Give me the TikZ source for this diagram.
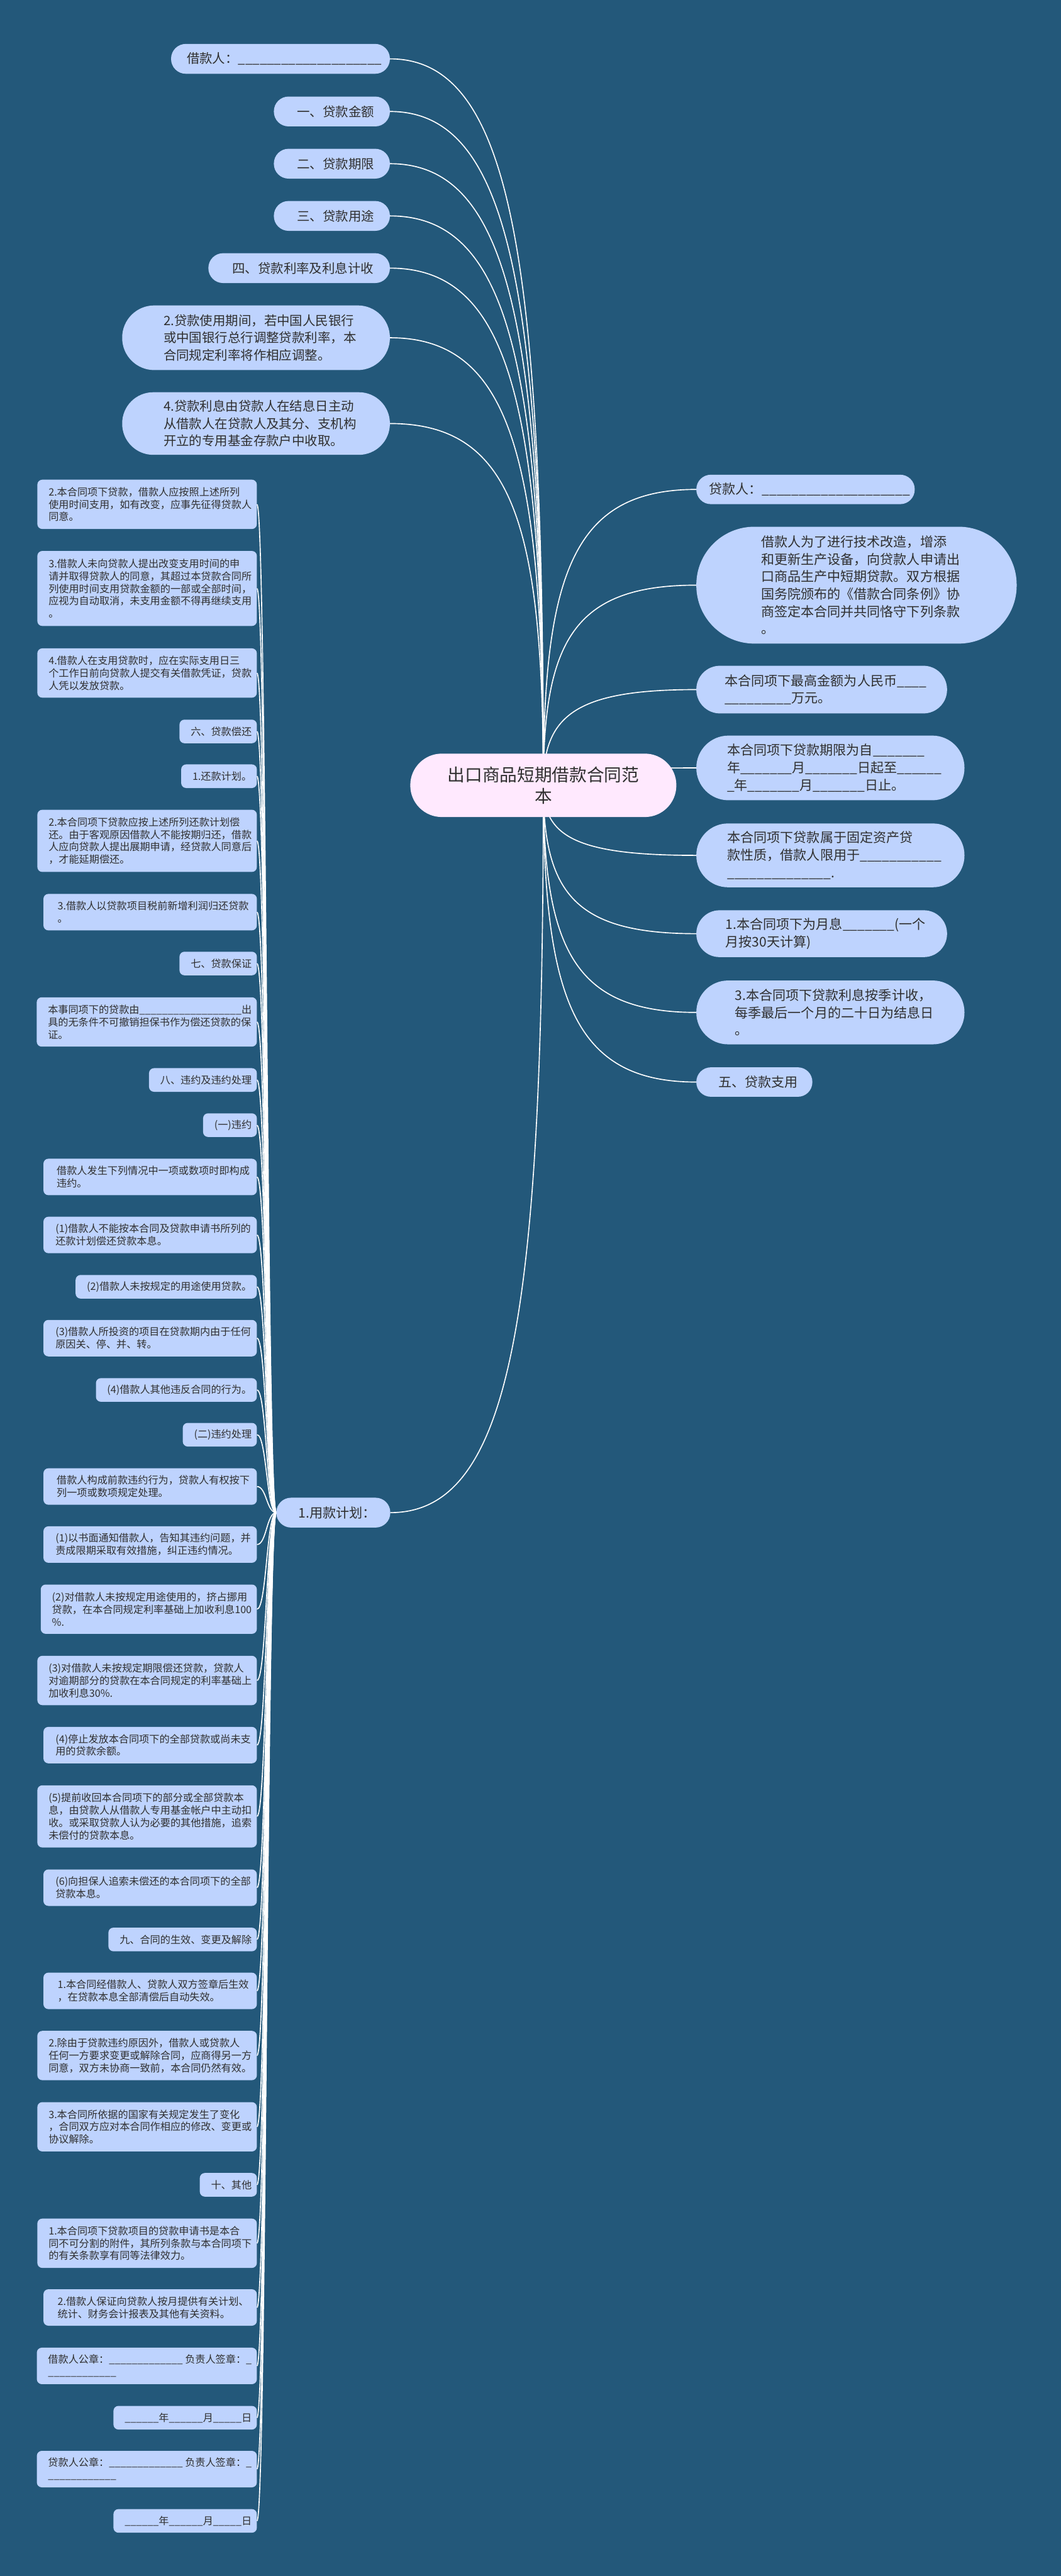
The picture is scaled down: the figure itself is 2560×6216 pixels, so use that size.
\documentclass[tikz,border=0pt]{standalone}
\usepackage{fontspec}
\setmainfont{Noto Sans CJK SC}
\usetikzlibrary{calc,backgrounds}
\definecolor{deepblue}{HTML}{23587A}
\definecolor{paleblue}{HTML}{BED3FE}
\definecolor{palepink}{HTML}{FFE9FE}
\definecolor{darkgrey}{HTML}{2F2F2F}
\ExplSyntaxOn
\NewDocumentCommand\blanks{m}{\prg_replicate:nn{#1}{\_}}
\ExplSyntaxOff
\begin{document}
\begin{tikzpicture}[x=1pt,y=-1pt,
    every node/.style={text=darkgrey, inner sep=0pt},
    tl/.style={fill=paleblue, align=left, anchor=east, font=\fontsize{31}{42}\selectfont,
      execute at begin node=\hspace*{0.6em}},
    rt/.style={fill=paleblue, align=left, anchor=west, font=\fontsize{32}{42}\selectfont,
      execute at begin node=\hspace*{0.6em}},
    lf/.style={fill=paleblue, align=left, anchor=east, inner xsep=12.5pt, rounded corners=12pt,
      font=\fontsize{24.5}{30}\selectfont, execute at begin node=\hspace*{0.6em}},
    wide/.style={minimum width=515pt},
    rows/.style={minimum height=(26+31*#1)*1pt},
    link/.style={draw=white, line width=2.5pt}]
    \useasboundingbox (0,0) rectangle (2560,6216);

    \node[fill=palepink, minimum width=642pt, minimum height=153pt, rounded corners=76pt,
      align=center, font=\fontsize{42}{52}\selectfont] (root) at (1311,1895) {出口商品短期借款合同范\\本};

    \node[tl, minimum width=528pt, minimum height=72pt, rounded corners=35.5pt] (tl1) at (941,142) {借款人：\blanks{20}};
    \node[tl, minimum width=280pt, minimum height=72pt, rounded corners=35.5pt] (tl2) at (941,269) {一、贷款金额};
    \node[tl, minimum width=280pt, minimum height=72pt, rounded corners=35.5pt] (tl3) at (941,395) {二、贷款期限};
    \node[tl, minimum width=280pt, minimum height=72pt, rounded corners=35.5pt] (tl4) at (941,521) {三、贷款用途};
    \node[tl, minimum width=438pt, minimum height=72pt, rounded corners=35.5pt] (tl5) at (941,647) {四、贷款利率及利息计收};
    \node[tl, minimum width=646pt, minimum height=156pt, rounded corners=77.5pt] (tl6) at (941,815)
      {2.贷款使用期间，若中国人民银行\\或中国银行总行调整贷款利率，本\\合同规定利率将作相应调整。};
    \node[tl, minimum width=646pt, minimum height=151pt, rounded corners=75pt] (tl7) at (941,1022)
      {4.贷款利息由贷款人在结息日主动\\从借款人在贷款人及其分、支机构\\开立的专用基金存款户中收取。};

    \node[rt, minimum width=527pt, minimum height=71pt, rounded corners=35pt] (rt1) at (1680,1181) {贷款人：\blanks{20}};
    \node[rt, minimum width=773pt, minimum height=282pt, rounded corners=140pt] (rt2) at (1680,1412)
      {借款人为了进行技术改造，增添\\和更新生产设备，向贷款人申请出\\口商品生产中短期贷款。双方根据\\国务院颁布的《借款合同条例》协\\商签定本合同并共同恪守下列条款\\。};
    \node[rt, minimum width=605pt, minimum height=115pt, rounded corners=57pt] (rt3) at (1680,1664)
      {本合同项下最高金额为人民币\blanks{4}\\\blanks{9}万元。};
    \node[rt, minimum width=647pt, minimum height=156pt, rounded corners=77.5pt] (rt4) at (1680,1853)
      {本合同项下贷款期限为自\blanks{7}\\年\blanks{7}月\blanks{7}日起至\blanks{6}\\\_年\blanks{7}月\blanks{7}日止。};
    \node[rt, minimum width=647pt, minimum height=154pt, rounded corners=76.5pt] (rt5) at (1680,2064)
      {本合同项下贷款属于固定资产贷\\款性质，借款人限用于\blanks{11}\\\blanks{14}.};
    \node[rt, minimum width=605pt, minimum height=113pt, rounded corners=56pt] (rt6) at (1680,2253)
      {1.本合同项下为月息\blanks{7}(一个\\月按30天计算)};
    \node[rt, minimum width=647pt, minimum height=154pt, rounded corners=76.5pt] (rt7) at (1680,2443)
      {3.本合同项下贷款利息按季计收，\\每季最后一个月的二十日为结息日\\。};
    \node[rt, minimum width=280pt, minimum height=71pt, rounded corners=35pt] (rt8) at (1680,2611) {五、贷款支用};

    \node[tl, minimum width=275pt, minimum height=72pt, rounded corners=35.5pt,
      font=\fontsize{32}{42}\selectfont] (use) at (942,3650) {1.用款计划：};

    \node[lf, wide, rows=3] (lf1) at (620,1217) {2.本合同项下贷款，借款人应按照上述所列\\使用时间支用，如有改变，应事先征得贷款人\\同意。};
    \node[lf, wide, rows=5] (lf2) at (620,1420) {3.借款人未向贷款人提出改变支用时间的申\\请并取得贷款人的同意，其超过本贷款合同所\\列使用时间支用贷款金额的一部或全部时间，\\应视为自动取消，未支用金额不得再继续支用\\。};
    \node[lf, wide, rows=3] (lf3) at (620,1624) {4.借款人在支用贷款时，应在实际支用日三\\个工作日前向贷款人提交有关借款凭证，贷款\\人凭以发放贷款。};
    \node[lf, rows=1] (lf4) at (620,1765) {六、贷款偿还};
    \node[lf, rows=1] (lf5) at (620,1873) {1.还款计划。};
    \node[lf, wide, rows=4] (lf6) at (620,2029) {2.本合同项下贷款应按上述所列还款计划偿\\还。由于客观原因借款人不能按期归还，借款\\人应向贷款人提出展期申请，经贷款人同意后\\，才能延期偿还。};
    \node[lf, wide, rows=2] (lf7) at (620,2201) {3.借款人以贷款项目税前新增利润归还贷款\\。};
    \node[lf, rows=1] (lf8) at (620,2325) {七、贷款保证};
    \node[lf, wide, rows=3] (lf9) at (620,2466) {本事同项下的贷款由\blanks{18}出\\具的无条件不可撤销担保书作为偿还贷款的保\\证。};
    \node[lf, rows=1] (lf10) at (620,2606) {八、违约及违约处理};
    \node[lf, rows=1] (lf11) at (620,2715) {(一)违约};
    \node[lf, wide, rows=2] (lf12) at (620,2840) {借款人发生下列情况中一项或数项时即构成\\违约。};
    \node[lf, wide, rows=2] (lf13) at (620,2980) {(1)借款人不能按本合同及贷款申请书所列的\\还款计划偿还贷款本息。};
    \node[lf, rows=1] (lf14) at (620,3105) {(2)借款人未按规定的用途使用贷款。};
    \node[lf, wide, rows=2] (lf15) at (620,3229) {(3)借款人所投资的项目在贷款期内由于任何\\原因关、停、并、转。};
    \node[lf, rows=1] (lf16) at (620,3354) {(4)借款人其他违反合同的行为。};
    \node[lf, rows=1] (lf17) at (620,3462) {(二)违约处理};
    \node[lf, wide, rows=2] (lf18) at (620,3587) {借款人构成前款违约行为，贷款人有权按下\\列一项或数项规定处理。};
    \node[lf, wide, rows=2] (lf19) at (620,3727) {(1)以书面通知借款人，告知其违约问题，并\\责成限期采取有效措施，纠正违约情况。};
    \node[lf, wide, rows=3] (lf20) at (620,3883) {(2)对借款人未按规定用途使用的，挤占挪用\\贷款，在本合同规定利率基础上加收利息100\\\%.};
    \node[lf, wide, rows=3] (lf21) at (620,4055) {(3)对借款人未按规定期限偿还贷款，贷款人\\对逾期部分的贷款在本合同规定的利率基础上\\加收利息30\%.};
    \node[lf, wide, rows=2] (lf22) at (620,4211) {(4)停止发放本合同项下的全部贷款或尚未支\\用的贷款余额。};
    \node[lf, wide, rows=4] (lf23) at (620,4383) {(5)提前收回本合同项下的部分或全部贷款本\\息，由贷款人从借款人专用基金帐户中主动扣\\收。或采取贷款人认为必要的其他措施，追索\\未偿付的贷款本息。};
    \node[lf, wide, rows=2] (lf24) at (620,4555) {(6)向担保人追索未偿还的本合同项下的全部\\贷款本息。};
    \node[lf, rows=1] (lf25) at (620,4680) {九、合同的生效、变更及解除};
    \node[lf, wide, rows=2] (lf26) at (620,4804) {1.本合同经借款人、贷款人双方签章后生效\\，在贷款本息全部清偿后自动失效。};
    \node[lf, wide, rows=3] (lf27) at (620,4960) {2.除由于贷款违约原因外，借款人或贷款人\\任何一方要求变更或解除合同，应商得另一方\\同意，双方未协商一致前，本合同仍然有效。};
    \node[lf, wide, rows=3] (lf28) at (620,5132) {3.本合同所依据的国家有关规定发生了变化\\，合同双方应对本合同作相应的修改、变更或\\协议解除。};
    \node[lf, rows=1] (lf29) at (620,5272) {十、其他};
    \node[lf, wide, rows=3] (lf30) at (620,5413) {1.本合同项下贷款项目的贷款申请书是本合\\同不可分割的附件，其所列条款与本合同项下\\的有关条款享有同等法律效力。};
    \node[lf, wide, rows=2] (lf31) at (620,5568) {2.借款人保证向贷款人按月提供有关计划、\\统计、财务会计报表及其他有关资料。};
    \node[lf, wide, rows=2] (lf32) at (620,5709) {借款人公章：\blanks{13} 负责人签章：\_\\\blanks{12}};
    \node[lf, rows=1] (lf33) at (620,5834) {\blanks{6}年\blanks{6}月\blanks{5}日};
    \node[lf, wide, rows=2] (lf34) at (620,5958) {贷款人公章：\blanks{13} 负责人签章：\_\\\blanks{12}};
    \node[lf, rows=1] (lf35) at (620,6083) {\blanks{6}年\blanks{6}月\blanks{5}日};

    \begin{pgfonlayer}{background}
        \fill[deepblue] (0,0) rectangle (2560,6216);
        \foreach \i in {1,...,7}
            \draw[link] (tl\i.east) .. controls ($(tl\i.east)!0.8!(root.center |- tl\i.east)$)
                and ($(root.center |- tl\i.east)!0.28!(root.center)$) .. (root.center);
        \foreach \i in {1,...,8}
            \draw[link] (rt\i.west) .. controls ($(rt\i.west)!0.8!(root.center |- rt\i.west)$)
                and ($(root.center |- rt\i.west)!0.28!(root.center)$) .. (root.center);
        \draw[link] (use.east) .. controls ($(use.east)!0.8!(root.center |- use.east)$)
            and ($(root.center |- use.east)!0.28!(root.center)$) .. (root.center);
        \foreach \i in {1,...,35}
            \draw[link] (use.west) .. controls ($(use.west)!0.5!(lf\i.east |- use.west)$)
                and ($(lf\i.east)!0.5!(use.west |- lf\i.east)$) .. (lf\i.east);
    \end{pgfonlayer}
\end{tikzpicture}
\end{document}
